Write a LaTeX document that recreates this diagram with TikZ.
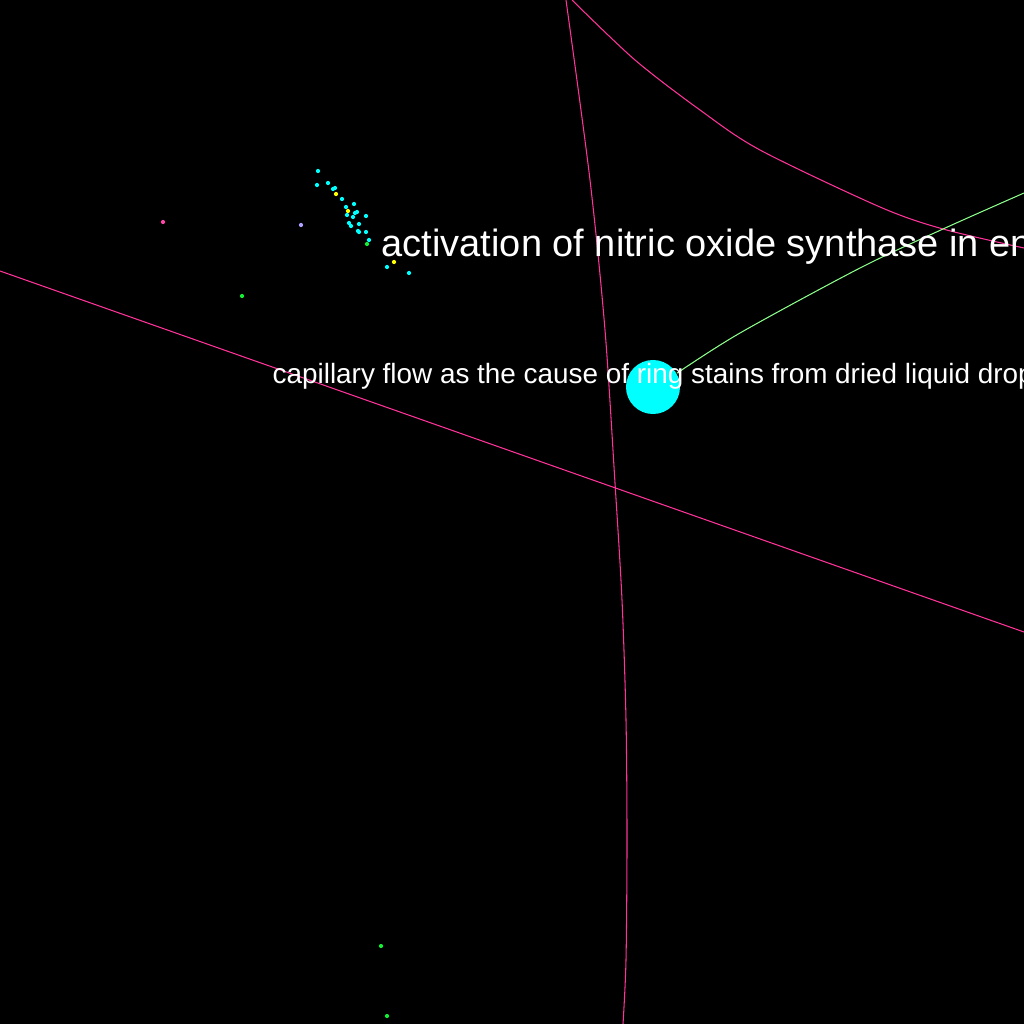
\documentclass[tikz,border=0pt]{standalone}
\usepackage{fontspec}
\setmainfont{Liberation Sans}
\usetikzlibrary{positioning}
\definecolor{linkpink}{HTML}{FF3399}
\definecolor{linkgreen}{HTML}{8CFF8C}
\definecolor{hubcyan}{HTML}{00FFFF}
\definecolor{dotyellow}{HTML}{FFFF00}
\definecolor{dotgreen}{HTML}{11EE33}
\definecolor{dotlilac}{HTML}{B0A0FF}
\definecolor{dotpink}{HTML}{FF44AA}

\begin{document}
\begin{tikzpicture}[x=0.01cm,y=-0.01cm,
	spot/.style={circle,inner sep=0pt,minimum size=1.2pt},
	link/.style={line width=0.3pt},
	label/.style={anchor=base west,inner sep=0pt,text=white}
	]

	\fill[black] (0,0) rectangle (1024,1024);
	\useasboundingbox (0,0) rectangle (1024,1024);
	\clip (0,0) rectangle (1024,1024);

	% edge ends outside the frame
	\coordinate (w) at (0,271);
	\coordinate (e) at (1024,632);
	\coordinate (t1) at (566,0);
	\coordinate (b1) at (623,1024);
	\coordinate (t2) at (572,0);
	\coordinate (r2) at (1024,248);
	\coordinate (r3) at (1024,193);

	\node[circle,fill=hubcyan,inner sep=0pt,minimum size=0.54cm] (hub) at (653,387) {};

	% pink edges
	\draw[link,linkpink] (w) -- (e);
	\draw[link,linkpink] plot[smooth] coordinates {(t1) (590,180) (605,330) (615,483) (622,600) (626,720) (627,840) (626,960) (b1)};
	\draw[link,linkpink] plot[smooth] coordinates {(t2) (635,60) (700,110) (760,150) (880,207) (943,229) (r2)};

	% green edge
	\draw[link,linkgreen] plot[smooth] coordinates {(hub.30) (740,333) (860,268) (943,229) (r3)};

	% small nodes
	\foreach \px/\py [count=\i] in {318/171,317/185,328/183,333/189,335/188,342/199,354/204,346/207,357/212,355/213,347/215,353/217,366/216,349/223,359/224,351/226,358/231,359/232,366/232,369/240,387/267,409/273}
		\node[spot,fill=hubcyan] (c\i) at (\px,\py) {};
	\node[spot,fill=dotyellow] (y1) at (336,194) {};
	\node[spot,fill=dotyellow] (y2) at (348,211) {};
	\node[spot,fill=dotyellow] (y3) at (394,262) {};
	\node[spot,fill=dotgreen] (g1) at (367,244) {};
	\node[spot,fill=dotgreen] (g2) at (242,296) {};
	\node[spot,fill=dotgreen] (g3) at (381,946) {};
	\node[spot,fill=dotgreen] (g4) at (387,1016) {};
	\node[spot,fill=dotlilac] (l1) at (301,225) {};
	\node[spot,fill=dotpink] (p1) at (163,222) {};

	% titles
	\node[label,font=\fontsize{10.8pt}{13pt}\selectfont] (nos) at (381,256) {activation of nitric oxide synthase in endothelial cells};
	\node[label,font=\fontsize{7.93pt}{9.5pt}\selectfont] (cap) at (272,383) {capillary flow as the cause of ring stains from dried liquid drops};

\end{tikzpicture}
\end{document}
